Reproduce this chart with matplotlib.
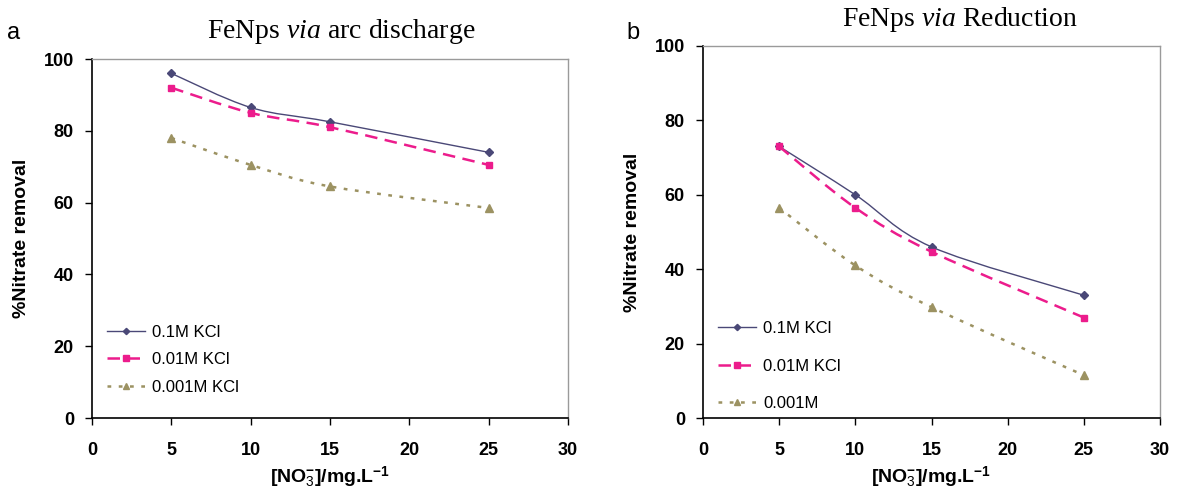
import numpy as np
import matplotlib
matplotlib.use("Agg")
import matplotlib.pyplot as plt
from matplotlib.path import Path
from matplotlib.patches import PathPatch
from matplotlib.lines import Line2D

# données
conc = [5, 10, 15, 25]

arc_01 = [96, 86.5, 82.5, 74]
arc_001 = [92, 85, 81, 70.5]
arc_0001 = [78, 70.5, 64.5, 58.5]

red_01 = [73, 60, 46, 33]
red_001 = [73, 56.5, 44.7, 27]
red_0001 = [56.5, 41, 29.8, 11.5]

labels_a = ["0.1M KCl", "0.01M KCl", "0.001M KCl"]
labels_b = ["0.1M KCl", "0.01M KCl", "0.001M"]

plt.rcParams['font.family'] = ['Liberation Sans', 'DejaVu Sans']
plt.rcParams['mathtext.fontset'] = 'custom'
plt.rcParams['mathtext.rm'] = 'Liberation Sans'
plt.rcParams['mathtext.bf'] = 'Liberation Sans:bold'
plt.rcParams['mathtext.it'] = 'Liberation Serif:italic'

styles = [
    dict(color="#4a4877", lw=1.0, ls="-", marker="D", ms=4),
    dict(color="#ec1c8c", lw=1.8, ls=(0, (5, 3)), marker="s", ms=5),
    dict(color="#9c9262", lw=1.8, ls=(0, (1.5, 3)), marker="^", ms=5.5),
]


def smooth_path(x, y):
    # courbe lissée type Excel (Catmull-Rom -> Bezier)
    x = np.asarray(x, float)
    y = np.asarray(y, float)
    verts = [(x[0], y[0])]
    codes = [Path.MOVETO]
    n = len(x)
    for i in range(n - 1):
        p0 = np.array([x[max(i - 1, 0)], y[max(i - 1, 0)]])
        p1 = np.array([x[i], y[i]])
        p2 = np.array([x[i + 1], y[i + 1]])
        p3 = np.array([x[min(i + 2, n - 1)], y[min(i + 2, n - 1)]])
        c1 = p1 + (p2 - p0) / 6.0
        c2 = p2 - (p3 - p1) / 6.0
        verts += [tuple(c1), tuple(c2), tuple(p2)]
        codes += [Path.CURVE4] * 3
    return Path(verts, codes)


def draw_panel(ax, series, labels, leg_spacing, leg_y):
    handles = []
    for ys, st, lab in zip(series, styles, labels):
        patch = PathPatch(smooth_path(conc, ys), facecolor="none",
                          edgecolor=st["color"], lw=st["lw"], ls=st["ls"])
        ax.add_patch(patch)
        ax.plot(conc, ys, ls="none", marker=st["marker"], ms=st["ms"],
                color=st["color"], mec=st["color"])
        handles.append(Line2D([], [], color=st["color"], lw=st["lw"],
                              ls=st["ls"], marker=st["marker"],
                              ms=st["ms"] * 0.8, mec=st["color"]))
    ax.set_xlim(0, 30)
    ax.set_ylim(0, 100)
    ax.set_xticks(range(0, 31, 5))
    ax.set_yticks(range(0, 101, 20))
    ax.tick_params(direction="out", length=5, width=1, labelsize=13)
    ax.tick_params(axis="x", pad=12)
    ax.tick_params(axis="y", pad=8)
    for t in ax.get_xticklabels() + ax.get_yticklabels():
        t.set_fontweight("bold")
    for s in ["top", "right"]:
        ax.spines[s].set_color("#9a9a9a")
        ax.spines[s].set_linewidth(1.0)
    for s in ["left", "bottom"]:
        ax.spines[s].set_color("black")
        ax.spines[s].set_linewidth(1.2)
    ax.set_xlabel("[NO$_3^{\\mathbf{-}}$]/mg.L$^{\\mathbf{-1}}$", fontsize=14,
                  fontweight="bold", labelpad=4)
    ax.set_ylabel("%Nitrate removal", fontsize=14, fontweight="bold",
                  labelpad=10)
    ax.legend(handles, labels, loc="lower left", bbox_to_anchor=(0.0, leg_y),
              frameon=False, fontsize=12, handlelength=2.3,
              labelspacing=leg_spacing, handletextpad=0.4, borderaxespad=0.5)


fig = plt.figure(figsize=(11.77, 4.94), dpi=100)
ax1 = fig.add_axes([92 / 1177, 1 - 418 / 494, 476 / 1177, 359 / 494])
ax2 = fig.add_axes([703 / 1177, 1 - 418 / 494, 457 / 1177, 372 / 494])

draw_panel(ax1, [arc_01, arc_001, arc_0001], labels_a, 0.75, 0.023)
draw_panel(ax2, [red_01, red_001, red_0001], labels_b, 1.35, -0.022)

fig.text(341 / 1177, 1 - 32 / 494, "FeNps $\\mathit{via}$ arc discharge",
         family="Liberation Serif", fontsize=20, ha="center", va="center")
fig.text(960 / 1177, 1 - 20 / 494, "FeNps $\\mathit{via}$ Reduction",
         family="Liberation Serif", fontsize=20, ha="center", va="center")

fig.text(14 / 1177, 1 - 33 / 494, "a", fontsize=17, va="center", ha="center")
fig.text(633 / 1177, 1 - 33 / 494, "b", fontsize=17, va="center", ha="center")

fig.savefig("out.png", dpi=100)
